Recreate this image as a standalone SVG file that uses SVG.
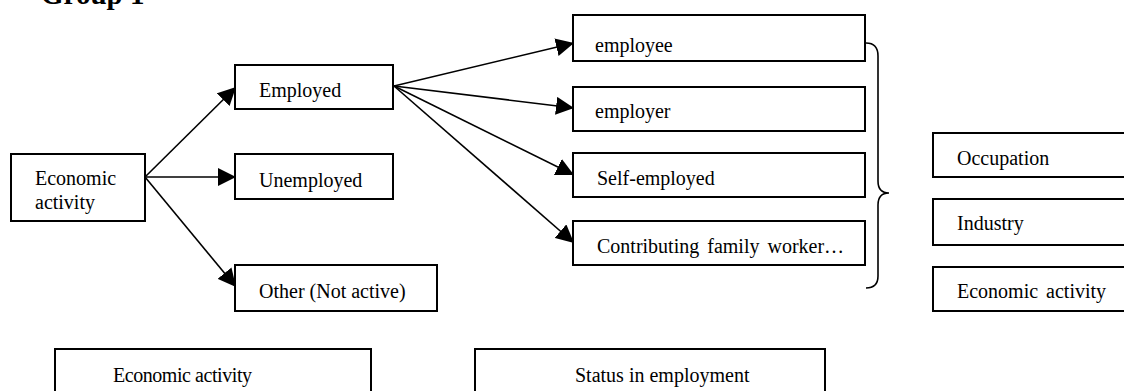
<svg xmlns="http://www.w3.org/2000/svg" width="1124" height="391" viewBox="0 0 1124 391">
<style>
.box{fill:#fff;stroke:#000;stroke-width:2}
.t{font-family:"Liberation Serif","Times New Roman",serif;font-size:20px;fill:#000}
.c{stroke:#000;stroke-width:1.6;fill:none}
.title{font-family:"Liberation Serif","Times New Roman",serif;font-size:29px;font-weight:bold;fill:#000}
</style>
<defs>
<marker id="ah" markerUnits="userSpaceOnUse" markerWidth="19" markerHeight="18" refX="18" refY="9" orient="auto">
<path d="M0,0 L18,9 L0,18 Z" fill="#000"/>
</marker>
</defs>
<rect width="1124" height="391" fill="#fff"/>
<text class="title" x="41" y="4">Group 1</text>
<g id="connectors">
<line class="c" x1="145" y1="177" x2="236" y2="87" marker-end="url(#ah)"/>
<line class="c" x1="145" y1="177" x2="236" y2="177" marker-end="url(#ah)"/>
<line class="c" x1="145" y1="177" x2="236" y2="287" marker-end="url(#ah)"/>
<line class="c" x1="394" y1="86" x2="574" y2="43" marker-end="url(#ah)"/>
<line class="c" x1="394" y1="86" x2="574" y2="108" marker-end="url(#ah)"/>
<line class="c" x1="394" y1="86" x2="574" y2="175" marker-end="url(#ah)"/>
<line class="c" x1="394" y1="86" x2="574" y2="243" marker-end="url(#ah)"/>
<path class="c" d="M866,43 Q878,43 878,56 L878,181 Q878,193 889,193 Q878,193 878,205 L878,276 Q878,288 866,288"/>
</g>
<g id="econ"><rect class="box" x="11" y="154" width="134" height="67"/><text class="t" x="35" y="185">Economic</text><text class="t" x="35" y="209">activity</text></g>
<g id="employed"><rect class="box" x="235" y="65" width="158" height="44"/><text class="t" x="259" y="97">Employed</text></g>
<g id="unemployed"><rect class="box" x="235" y="154" width="158" height="45"/><text class="t" x="259" y="187">Unemployed</text></g>
<g id="other"><rect class="box" x="235" y="265" width="202" height="46"/><text class="t" x="259" y="298">Other (Not active)</text></g>
<g id="employee"><rect class="box" x="573" y="15" width="292" height="46"/><text class="t" x="595" y="52">employee</text></g>
<g id="employer"><rect class="box" x="573" y="87" width="292" height="44"/><text class="t" x="595" y="118">employer</text></g>
<g id="selfemployed"><rect class="box" x="573" y="153" width="292" height="44"/><text class="t" x="597" y="185">Self-employed</text></g>
<g id="contributing"><rect class="box" x="573" y="221" width="292" height="44"/><text class="t" x="597" y="253" word-spacing="3">Contributing family worker…</text></g>
<g id="occupation"><rect class="box" x="933" y="133" width="200" height="44"/><text class="t" x="957" y="165">Occupation</text></g>
<g id="industry"><rect class="box" x="933" y="199" width="200" height="46"/><text class="t" x="957" y="230">Industry</text></g>
<g id="econ2"><rect class="box" x="933" y="267" width="200" height="44"/><text class="t" x="957" y="298" word-spacing="3">Economic activity</text></g>
<g id="econ-bottom"><rect class="box" x="55" y="349" width="316" height="60"/><text class="t" x="113" y="382" textLength="139">Economic activity</text></g>
<g id="status-bottom"><rect class="box" x="475" y="349" width="350" height="60"/><text class="t" x="575" y="382">Status in employment</text></g>
</svg>
